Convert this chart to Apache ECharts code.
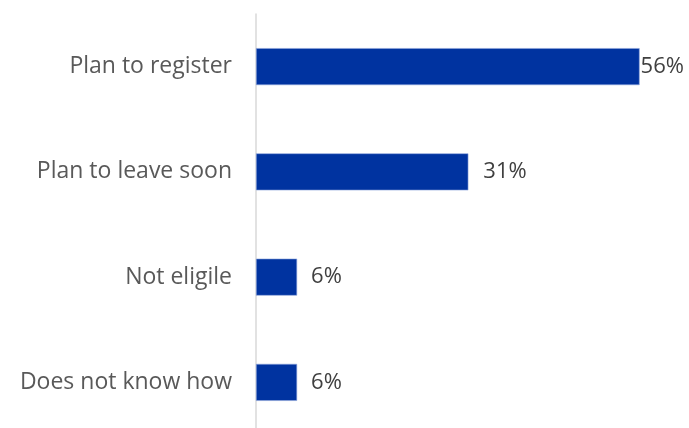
<!DOCTYPE html>
<html>
<head>
<meta charset="utf-8">
<script src="https://cdn.jsdelivr.net/npm/echarts@6/dist/echarts.min.js"></script>
<style>
  html, body { margin: 0; padding: 0; background: #ffffff; }
  #chart { width: 689px; height: 428px; }
</style>
</head>
<body>
<div id="chart"></div>
<script>
// Reasons given, top to bottom
const categories = ['Plan to register', 'Plan to leave soon', 'Not eligile', 'Does not know how'];
// Share of respondents, percent
const values = [56, 31, 6, 6];
// Gap between bar end and its value label
const labelGaps = [1, 15, 14, 14];

const chart = echarts.init(document.getElementById('chart'), null, { renderer: 'canvas' });

chart.setOption({
  animation: false,
  grid: {
    left: 256, width: 411, top: 14, height: 421,
    containLabel: false,
    outerBoundsMode: 'none'
  },
  xAxis: {
    type: 'value',
    min: 0,
    max: 60,
    show: false
  },
  yAxis: {
    type: 'category',
    inverse: true,
    data: categories,
    axisLine: { show: true, lineStyle: { color: '#d9d9d9', width: 1.5 } },
    axisTick: { show: false },
    axisLabel: {
      color: '#595959',
      fontFamily: 'Open Sans',
      fontSize: 23,
      margin: 24
    }
  },
  series: [{
    type: 'bar',
    barWidth: 37,
    data: values.map((v, i) => ({
      value: v,
      label: { distance: labelGaps[i] }
    })),
    itemStyle: {
      color: '#0033a0',
      borderColor: '#8fa6dc',
      borderWidth: 0.6
    },
    label: {
      show: true,
      position: 'right',
      formatter: p => p.value + '%',
      color: '#404040',
      fontFamily: 'Open Sans',
      fontSize: 22
    }
  }]
});
</script>
</body>
</html>
